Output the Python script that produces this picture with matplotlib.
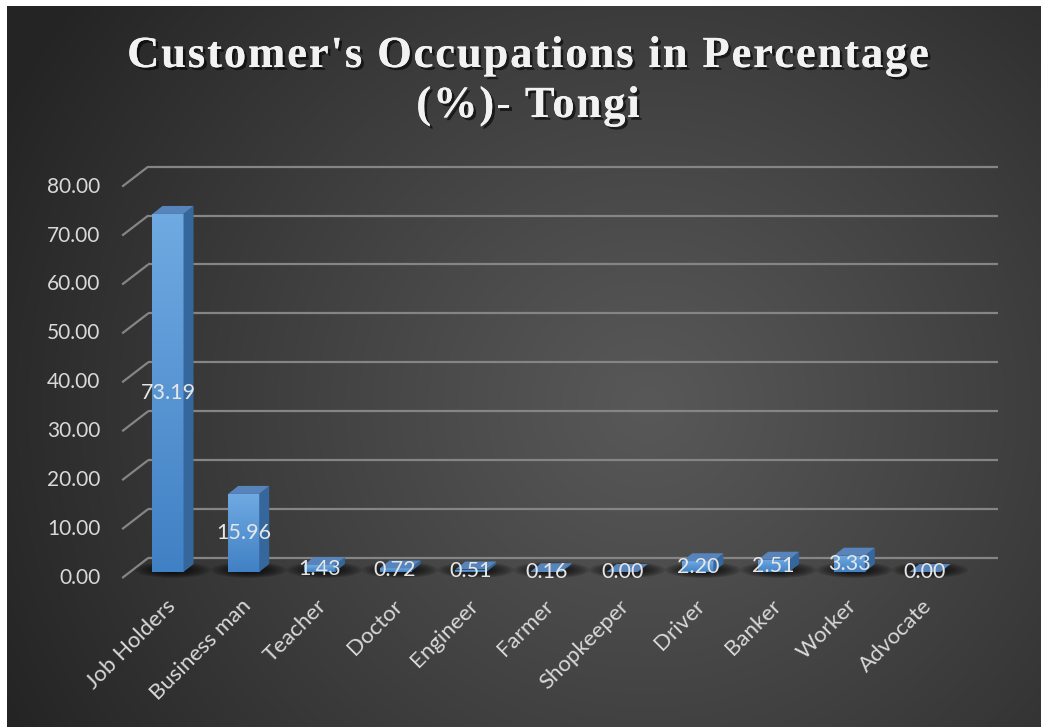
import numpy as np
import matplotlib
matplotlib.use("Agg")
import matplotlib.pyplot as plt
from matplotlib.patches import Polygon, Rectangle, Ellipse
from matplotlib.font_manager import FontProperties
import matplotlib.patheffects as pe

# ---------------- data ----------------
categories = ['Job Holders', 'Business man', 'Teacher', 'Doctor', 'Engineer',
              'Farmer', 'Shopkeeper', 'Driver', 'Banker', 'Worker', 'Advocate']
values = [73.19, 15.96, 1.43, 0.72, 0.51, 0.16, 0.00, 2.20, 2.51, 3.33, 0.00]
yticks = [0, 10, 20, 30, 40, 50, 60, 70, 80]
title_lines = ["Customer's Occupations in Percentage", "(%)- Tongi"]

# ---------------- figure ----------------
W, H, DPI = 1041, 727, 100
fig = plt.figure(figsize=(W / DPI, H / DPI), dpi=DPI)
fig.patch.set_facecolor('white')

# background radial gradient (dark area starts at x=7, y=6)
bg = fig.add_axes([7 / W, 0, 1 - 7 / W, 1 - 6 / H])
bg.axis('off')
gh, gw = 721, 1034
yy, xx = np.mgrid[0:gh, 0:gw]
r = np.hypot(xx - 640, (yy - 400) * 1.05)
t = np.clip(r / 720.0, 0, 1) ** 1.1
val = 0x58 + (0x24 - 0x58) * t
img = np.dstack([val, val, val]) / 255.0
bg.imshow(img, extent=[0, 1, 0, 1], aspect='auto', interpolation='bilinear')
bg.set_xlim(0, 1); bg.set_ylim(0, 1)

# main axes covering the whole figure (pixel-aligned scales)
ax = fig.add_axes([0, 0, 1, 1])
ax.patch.set_alpha(0)
ax.axis('off')
X_PX0, X_STEP = 168.0, 75.7      # pixel x of first category, pixels per category
Y_PX0, Y_SCALE = 572.0, 4.892    # pixel y of value 0 (bar front plane), pixels per unit
XLIM = ((0 - X_PX0) / X_STEP, (W - X_PX0) / X_STEP)
YLIM = ((Y_PX0 - H) / Y_SCALE, Y_PX0 / Y_SCALE)
ax.set_xlim(*XLIM); ax.set_ylim(*YLIM)


def px(dx, dy):
    """pixel offset (dy positive downward) -> data offset"""
    return dx / X_STEP, -dy / Y_SCALE


BACK = px(18, -14)
FRONT = px(-8, 6)
DEPTH = px(10, -8)
HALF_W = 0.205
LABEL_FONT = ['Lato', 'DejaVu Sans']

grid_col = '#858585'
x_left = -0.5
x_right_back = (998 - X_PX0) / X_STEP
for v in yticks:
    ax.plot([x_left + BACK[0], x_right_back], [v + BACK[1], v + BACK[1]],
            color=grid_col, lw=1.6, zorder=1, solid_capstyle='butt')
    ax.plot([x_left + FRONT[0], x_left + BACK[0]], [v + FRONT[1], v + BACK[1]],
            color=grid_col, lw=1.6, zorder=1, solid_capstyle='butt')
    ax.text(x_left + FRONT[0] + px(-22, 0)[0], v + FRONT[1], f'{v:.2f}',
            ha='right', va='center', fontsize=15, color='#D9D9D9',
            family=LABEL_FONT, zorder=5)

# shadows under bars
for i, v in enumerate(values):
    cx, cy = i + DEPTH[0] / 2, DEPTH[1] / 2 + px(0, 2)[1]
    for k in range(8):
        s = 1 - k * 0.09
        e = Ellipse((cx, cy), 1.0 * s, 16 / Y_SCALE * s,
                    facecolor='black', edgecolor='none', alpha=0.12, zorder=2)
        ax.add_patch(e)

# bars
front_top = np.array([0x70, 0xAA, 0xE2]) / 255
front_bot = np.array([0x40, 0x80, 0xC4]) / 255
side_col = '#36679C'
top_col = '#5784BB'
grad = np.linspace(0, 1, 256)[:, None, None]
for i, v in enumerate(values):
    x0, x1 = i - HALF_W, i + HALF_W
    if v > 0:
        rect = Rectangle((x0, 0), x1 - x0, v, facecolor='none', edgecolor='none')
        ax.add_patch(rect)
        g = front_top * (1 - grad) + front_bot * grad
        im = ax.imshow(np.repeat(g, 2, axis=1), extent=[x0, x1, 0, v],
                       aspect='auto', zorder=3, interpolation='bilinear')
        im.set_clip_path(rect)
        ax.add_patch(Polygon([(x1, 0), (x1, v), (x1 + DEPTH[0], v + DEPTH[1]),
                              (x1 + DEPTH[0], DEPTH[1])],
                             closed=True, facecolor=side_col, edgecolor='none', zorder=3))
    ax.add_patch(Polygon([(x0, v), (x1, v), (x1 + DEPTH[0], v + DEPTH[1]),
                          (x0 + DEPTH[0], v + DEPTH[1])],
                         closed=True, facecolor=top_col, edgecolor='none', zorder=3))
    ax.text(i, v / 2, f'{v:.2f}', ha='center', va='center', fontsize=15.5,
            color='#E6E6E6', family=LABEL_FONT, zorder=6)
    ax.text(i + px(-3, 0)[0], px(0, 24)[1], categories[i], ha='right', va='top',
            rotation=45, rotation_mode='anchor', fontsize=16, color='#D9D9D9',
            family=LABEL_FONT, zorder=6)

ax.set_xlim(*XLIM); ax.set_ylim(*YLIM)

# title with letter spacing (tracking), drawn character by character
renderer = fig.canvas.get_renderer()
tfp = FontProperties(family=['Liberation Serif', 'DejaVu Serif'], weight='bold', size=32)
TRACK = 1.9  # extra pixels between characters
shadow = [pe.withSimplePatchShadow(offset=(2, -2), shadow_rgbFace='black', alpha=0.6),
          pe.Normal()]


def ink_w(s):
    return renderer.get_text_width_height_descent(s, tfp, ismath=False)[0]


for line, base in zip(title_lines, [67, 117]):
    n = len(line)
    total = ink_w(line) + TRACK * (n - 1)
    left = 528 - total / 2
    for k, ch in enumerate(line):
        if ch == ' ':
            continue
        right_ink = ink_w(line[:k + 1])
        xk = left + right_ink - ink_w(ch) + TRACK * k
        fig.text(xk / W, 1 - base / H, ch, ha='left', va='baseline',
                 fontproperties=tfp, color='#F2F2F2', path_effects=shadow)

fig.savefig('out.png', dpi=DPI, facecolor=fig.get_facecolor())
